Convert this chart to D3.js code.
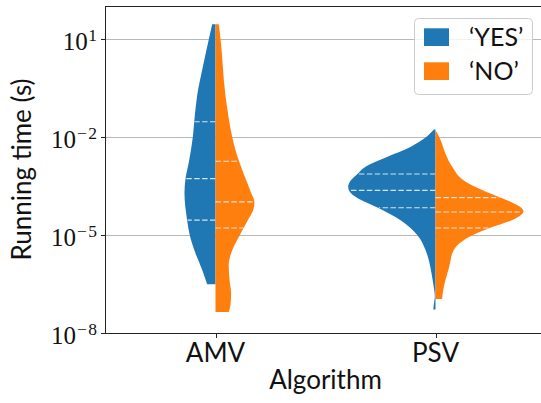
<!DOCTYPE html>
<html><head><meta charset="utf-8">
<script src="https://cdn.jsdelivr.net/npm/d3@7"></script>
<style>body{margin:0;background:#fff}svg{display:block}</style>
</head><body>
<script>
// ---- data (times as log10 exponents; half-widths in category units) ----
const categories = ["AMV", "PSV"];
const seriesNames = ["'YES'", "'NO'"];
const seriesLabels = ["\u2018YES\u2019", "\u2018NO\u2019"];
const colors = ["#1f77b4", "#ff7f0e"];

const amvYesLog   = [1.45, 1.0, 0.20, -0.71, -1.33, -2.0, -2.76, -3.26, -3.71, -4.54, -5.0, -5.55, -6.07, -6.5];
const amvYesWidth = [0.015, 0.030, 0.056, 0.083, 0.094, 0.103, 0.121, 0.136, 0.141, 0.129, 0.117, 0.091, 0.060, 0.038];
const amvNoLog    = [1.45, 1.0, -0.71, -1.33, -2.0, -2.40, -2.74, -3.26, -3.71, -3.99, -4.24, -4.54, -5.0, -5.55, -5.92, -6.38, -6.78, -7.14, -7.35];
const amvNoWidth  = [0.015, 0.023, 0.045, 0.058, 0.076, 0.091, 0.107, 0.136, 0.162, 0.177, 0.171, 0.147, 0.110, 0.071, 0.060, 0.064, 0.071, 0.068, 0.060];
const psvYesLog   = [-1.77, -1.99, -2.30, -2.60, -2.91, -3.13, -3.37, -3.52, -3.67, -3.93, -4.15, -4.54, -5.0, -5.46, -5.77, -6.17, -6.58, -6.89, -7.08, -7.27];
const psvYesWidth = [0.007, 0.041, 0.114, 0.218, 0.318, 0.355, 0.390, 0.397, 0.390, 0.336, 0.264, 0.159, 0.082, 0.045, 0.030, 0.018, 0.008, 0.003, 0.007, 0.010];
const psvNoLog    = [-1.84, -2.09, -2.50, -2.91, -3.32, -3.62, -3.85, -4.08, -4.27, -4.49, -4.76, -5.0, -5.25, -5.56, -5.83, -6.07, -6.38, -6.68, -6.95];
const psvNoWidth  = [0.005, 0.023, 0.045, 0.076, 0.127, 0.212, 0.295, 0.371, 0.400, 0.364, 0.255, 0.168, 0.109, 0.076, 0.067, 0.058, 0.045, 0.035, 0.030];

const amvYesQuart = [-4.54, -3.27, -1.53];
const amvNoQuart  = [-4.78, -3.98, -2.74];
const psvYesQuart = [-4.16, -3.63, -3.13];
const psvNoQuart  = [-4.78, -4.29, -3.85];

const yTickExp = [1, -2, -5, -8];
const xLabel = "Algorithm";
const yLabel = "Running time (s)";

// ---- layout ----
const W = 541, H = 403;
const svg = d3.select("body").append("svg").attr("width", W).attr("height", H);
const x = d3.scaleLinear().domain([-0.5, 1.5]).range([105.5, 545.5]);
const y = d3.scaleLog().domain([1e-8, 1.02e2]).range([333.3, 6]);

const halves = [
  {cat: 0, side: -1, s: 0, logs: amvYesLog, w: amvYesWidth, q: amvYesQuart},
  {cat: 0, side: 1,  s: 1, logs: amvNoLog,  w: amvNoWidth,  q: amvNoQuart},
  {cat: 1, side: -1, s: 0, logs: psvYesLog, w: psvYesWidth, q: psvYesQuart},
  {cat: 1, side: 1,  s: 1, logs: psvNoLog,  w: psvNoWidth,  q: psvNoQuart},
];

// grid
const g = svg.append("g");
g.selectAll("line.grid").data(yTickExp.filter(e => e > -8)).join("line")
  .attr("x1", x(-0.5)).attr("x2", W)
  .attr("y1", e => Math.round(y(Math.pow(10, e))) + 0.5)
  .attr("y2", e => Math.round(y(Math.pow(10, e))) + 0.5)
  .attr("stroke", "#b0b0b0").attr("stroke-width", 0.9);

// violins
halves.forEach(h => {
  const pts = h.logs.map((l, i) => [l, h.w[i]]);
  const cx = x(h.cat);
  const area = d3.area()
    .y(d => y(Math.pow(10, d[0])))
    .x0(cx)
    .x1(d => x(h.cat + h.side * d[1]))
    .curve(d3.curveMonotoneY);
  const pts2 = pts.slice().reverse();
  svg.append("path").attr("d", area(pts2)).attr("fill", colors[h.s]).attr("stroke", "none");
  h.q.forEach(qv => {
    let wv = 0;
    for (let i = 0; i < pts.length - 1; i++) {
      const a = pts[i], b = pts[i + 1];
      if ((qv <= a[0] && qv >= b[0])) {
        const t = (qv - a[0]) / (b[0] - a[0]);
        wv = a[1] + t * (b[1] - a[1]);
        break;
      }
    }
    const yy = y(Math.pow(10, qv));
    svg.append("line")
      .attr("x1", cx).attr("x2", x(h.cat + h.side * wv * 0.985))
      .attr("y1", yy).attr("y2", yy)
      .attr("stroke", "#e8eef4").attr("stroke-opacity", 0.9)
      .attr("stroke-width", 1.1).attr("stroke-dasharray", "5.5,2.4");
  });
});

// spines
svg.append("line").attr("x1", 105.5).attr("x2", 105.5).attr("y1", 6).attr("y2", 333.5).attr("stroke", "#222").attr("stroke-width", 1);
svg.append("line").attr("x1", 105).attr("x2", W).attr("y1", 6.5).attr("y2", 6.5).attr("stroke", "#222").attr("stroke-width", 1);
svg.append("line").attr("x1", 105).attr("x2", W).attr("y1", 333.5).attr("y2", 333.5).attr("stroke", "#222").attr("stroke-width", 1);

// y ticks
yTickExp.forEach(e => {
  const yy = Math.round(y(Math.pow(10, e))) + 0.5;
  svg.append("line").attr("x1", 101).attr("x2", 105.5).attr("y1", yy).attr("y2", yy).attr("stroke", "#222");
  const t = svg.append("text").attr("x", 97).attr("y", yy + 10)
    .attr("text-anchor", "end")
    .attr("font-family", "'Liberation Serif', 'DejaVu Serif', serif")
    .attr("font-size", 25).attr("fill", "#111");
  t.append("tspan").text("10");
  if (e < 0) {
    t.append("tspan").attr("dy", -9).attr("dx", 1).attr("font-size", 17.5).text("\u2212");
    t.append("tspan").attr("dx", 1.5).attr("font-size", 17.5).text(String(Math.abs(e)));
  } else {
    t.append("tspan").attr("dy", -9).attr("dx", 0.5).attr("font-size", 17.5).text(String(e));
  }
});

// x ticks
categories.forEach((c, i) => {
  svg.append("line").attr("x1", Math.round(x(i)) + 0.5).attr("x2", Math.round(x(i)) + 0.5).attr("y1", 333.5).attr("y2", 338).attr("stroke", "#222");
  svg.append("text").attr("x", x(i)).attr("y", 362).attr("text-anchor", "middle")
    .attr("font-family", "Lato, 'DejaVu Sans', sans-serif").attr("font-size", 26).attr("fill", "#111").text(c);
});

// axis labels
svg.append("text").attr("x", x(0.5)).attr("y", 389).attr("text-anchor", "middle")
  .attr("font-family", "Lato, 'DejaVu Sans', sans-serif").attr("font-size", 26).attr("fill", "#111").text(xLabel);
svg.append("text").attr("transform", `translate(31,${(6 + 333) / 2}) rotate(-90)`).attr("text-anchor", "middle")
  .attr("font-family", "Lato, 'DejaVu Sans', sans-serif").attr("font-size", 26).attr("fill", "#111").text(yLabel);

// legend
const lg = svg.append("g");
lg.append("rect").attr("x", 414.5).attr("y", 18.5).attr("width", 118).attr("height", 76).attr("rx", 4)
  .attr("fill", "#fff").attr("fill-opacity", 0.8).attr("stroke", "#cccccc");
seriesLabels.forEach((s, i) => {
  const yy = 28.3 + i * 34;
  lg.append("rect").attr("x", 424).attr("y", yy).attr("width", 25).attr("height", 17.7).attr("fill", colors[i]);
  lg.append("text").attr("x", 469).attr("y", yy + 18).attr("font-family", "Lato, 'DejaVu Sans', sans-serif")
    .attr("font-size", 25).attr("fill", "#111").text(s);
});
</script>
</body></html>
